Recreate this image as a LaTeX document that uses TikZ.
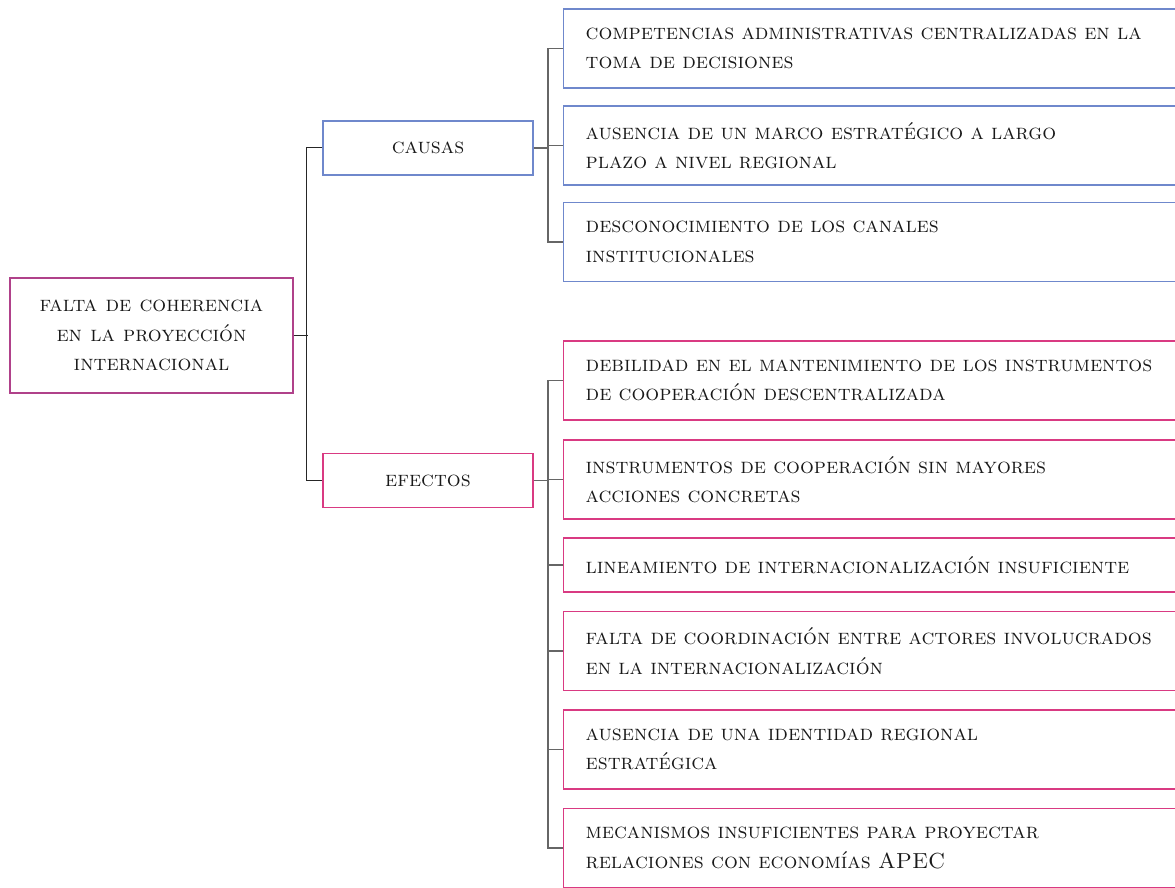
\documentclass[tikz,border=0pt]{standalone}
\usepackage{tikz}
\definecolor{rootcol}{HTML}{B0418A}
\definecolor{causecol}{HTML}{6F88CC}
\definecolor{effectcol}{HTML}{D93A82}
\definecolor{linecol}{HTML}{666666}

\begin{document}
\begin{tikzpicture}[x=1pt, y=-1pt,
	every node/.style={font=\fontsize{21.8}{29.5}\selectfont\scshape, text=black!90},
	rootbox/.style={draw=rootcol, line width=1.3pt, minimum width=283pt, minimum height=115pt, align=center},
	headbox/.style={draw=#1, line width=1.3pt, minimum width=210pt, minimum height=54pt},
	itembox/.style={draw=#1, line width=1.3pt, anchor=west, text width=600pt, inner xsep=22pt, minimum height=79pt, align=left},
	trunk/.style={draw=black!85, line width=1pt},
	branch/.style={draw=linecol, line width=1.4pt}]
	\useasboundingbox (0,0) rectangle (1175,888);
	\clip (0,0) rectangle (1175,888);
	% Problema central
	\node[rootbox] (root) at (151.5,335.5) {falta de coherencia\\en la proyección\\internacional};
	\node[headbox=causecol] (causas) at (428,148) {causas};
	\node[headbox=effectcol] (efectos) at (428,480.5) {efectos};
	% causas
	\node[itembox=causecol] (c1) at (563,48.5) {competencias administrativas centralizadas en la\\toma de decisiones};
	\node[itembox=causecol] (c2) at (563,145.5) {ausencia de un marco estratégico a largo\\plazo a nivel regional};
	\node[itembox=causecol] (c3) at (563,242) {desconocimiento de los canales\\institucionales};
	% efectos
	\node[itembox=effectcol] (e1) at (563,380.5) {debilidad en el mantenimiento de los instrumentos\\de cooperación descentralizada};
	\node[itembox=effectcol] (e2) at (563,479.5) {instrumentos de cooperación sin mayores\\acciones concretas};
	\node[itembox=effectcol, minimum height=54pt] (e3) at (563,565) {lineamiento de internacionalización insuficiente};
	\node[itembox=effectcol] (e4) at (563,651) {falta de coordinación entre actores involucrados\\en la internacionalización};
	\node[itembox=effectcol] (e5) at (563,749.5) {ausencia de una identidad regional\\estratégica};
	\node[itembox=effectcol] (e6) at (563,848) {mecanismos insuficientes para proyectar\\relaciones con economías APEC};
	% llaves
	\draw[trunk] (root.east) -- ++(14,0);
	\draw[trunk] (causas.west) -- ++(-16,0) |- (efectos.west);
	\draw[branch] (causas.east) -- ++(15,0);
	\draw[branch] (c1.west) -- ++(-15,0) |- (c3.west);
	\draw[branch] (c2.west) -- ++(-15,0);
	\draw[branch] (efectos.east) -- ++(15,0);
	\draw[branch] (e1.west) -- ++(-15,0) |- (e6.west);
	\foreach \e in {e2,e3,e4,e5}
		\draw[branch] (\e.west) -- ++(-15,0);
\end{tikzpicture}
\end{document}
